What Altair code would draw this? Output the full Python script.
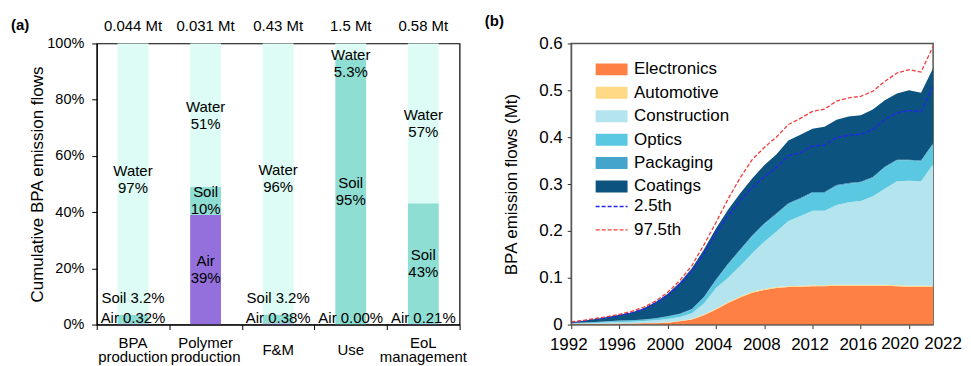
import altair as alt
import pandas as pd

FONT = "Liberation Sans"

# ---------------- Panel (a) data ----------------
stages = ["BPA\nproduction", "Polymer\nproduction", "F&M", "Use", "EoL\nmanagement"]
totals = ["0.044 Mt", "0.031 Mt", "0.43 Mt", "1.5 Mt", "0.58 Mt"]
air = [0.32, 39, 0.38, 0.00, 0.21]
soil = [3.2, 10, 3.2, 95, 43]
water = [97, 51, 96, 5.3, 57]
air_lbl = ["0.32%", "39%", "0.38%", "0.00%", "0.21%"]
soil_lbl = ["3.2%", "10%", "3.2%", "95%", "43%"]
water_lbl = ["97%", "51%", "96%", "5.3%", "57%"]
media = ["Air", "Soil", "Water"]
media_colors = ["#9370db", "#8fded3", "#dcfcf5"]

# ---------------- Panel (b) data ----------------
years = list(range(1992, 2023))
electronics = [0.001, 0.001, 0.001, 0.0015, 0.002, 0.002, 0.003, 0.003, 0.004, 0.007,
               0.011, 0.020, 0.032, 0.046, 0.058, 0.068, 0.074, 0.078, 0.080, 0.081,
               0.082, 0.082, 0.083, 0.083, 0.083, 0.083, 0.083, 0.082, 0.081, 0.081, 0.081]
automotive = [0.0005] * 8 + [0.001] * 3 + [0.002] * 20
construction = [0.001, 0.0015, 0.002, 0.0025, 0.003, 0.0035, 0.004, 0.0055, 0.007, 0.008,
                0.012, 0.023, 0.044, 0.052, 0.065, 0.082, 0.101, 0.118, 0.139, 0.149,
                0.159, 0.159, 0.170, 0.176, 0.179, 0.189, 0.205, 0.222, 0.224, 0.223, 0.259]
optics = [0.0005, 0.001, 0.0015, 0.002, 0.0025, 0.003, 0.003, 0.004, 0.005, 0.006,
          0.008, 0.013, 0.016, 0.028, 0.033, 0.036, 0.037, 0.037, 0.036, 0.036,
          0.038, 0.038, 0.041, 0.039, 0.039, 0.039, 0.045, 0.044, 0.043, 0.042, 0.043]
packaging = [0.0005] * 8 + [0.001] * 4 + [0.002] * 19
coatings = [0.0015, 0.0035, 0.0065, 0.009, 0.0125, 0.0165, 0.024, 0.0345, 0.048, 0.067,
            0.087, 0.101, 0.109, 0.115, 0.120, 0.122, 0.124, 0.126, 0.134, 0.135,
            0.135, 0.139, 0.139, 0.142, 0.142, 0.144, 0.142, 0.141, 0.148, 0.145, 0.160]
p025 = [0.005, 0.008, 0.012, 0.015, 0.020, 0.025, 0.033, 0.046, 0.063, 0.086,
        0.114, 0.152, 0.195, 0.232, 0.265, 0.293, 0.315, 0.335, 0.360, 0.367,
        0.381, 0.383, 0.399, 0.404, 0.406, 0.416, 0.438, 0.452, 0.457, 0.454, 0.509]
p975 = [0.006, 0.009, 0.013, 0.017, 0.022, 0.028, 0.037, 0.050, 0.069, 0.094,
        0.126, 0.170, 0.218, 0.268, 0.313, 0.352, 0.378, 0.400, 0.427, 0.440,
        0.455, 0.460, 0.477, 0.484, 0.487, 0.498, 0.519, 0.537, 0.544, 0.539, 0.594]
sectors = ["Electronics", "Automotive", "Construction", "Optics", "Packaging", "Coatings"]
sector_colors = ["#ff8045", "#ffd985", "#b4e4ee", "#5ac8e0", "#44a4cc", "#0c5380"]
bounds = ["2.5th", "97.5th"]
bound_colors = ["#2424f0", "#f43c3c"]
year_labels = [1992, 1996, 2000, 2004, 2008, 2012, 2016]
year_2020 = [2020]
year_2022 = [2022]

# ---------------- build tables ----------------
bar_rows, lab_rows = [], []
for i, s in enumerate(stages):
    vals = [air[i], soil[i], water[i]]
    for k, m in enumerate(media):
        bar_rows.append({"stage": s, "medium": m, "value": vals[k], "k": k})
    tot = sum(vals)
    a1 = air[i] / tot
    s1 = a1 + soil[i] / tot
    if air[i] < 5:
        lab_rows.append({"stage": s, "y": 0.025, "t": "Air " + air_lbl[i]})
    else:
        lab_rows.append({"stage": s, "y": a1 / 2, "t": "Air\n" + air_lbl[i]})
    if soil[i] < 5:
        lab_rows.append({"stage": s, "y": 0.095, "t": "Soil " + soil_lbl[i]})
    else:
        lab_rows.append({"stage": s, "y": (a1 + s1) / 2, "t": "Soil\n" + soil_lbl[i]})
    if water[i] < 10:
        lab_rows.append({"stage": s, "y": 1 - 0.072, "t": "Water\n" + water_lbl[i]})
    else:
        lab_rows.append({"stage": s, "y": (s1 + 1) / 2, "t": "Water\n" + water_lbl[i]})
df_bars = pd.DataFrame(bar_rows)
df_lab = pd.DataFrame(lab_rows)
df_lab1 = df_lab[~df_lab["t"].str.contains("\n")]
df_lab2 = df_lab[df_lab["t"].str.contains("\n")]
df_tot = pd.DataFrame({"stage": stages, "t": totals})
df_cat = pd.DataFrame({"stage": stages})
df_cat1 = df_cat[~df_cat["stage"].str.contains("\n")]
df_cat2 = df_cat[df_cat["stage"].str.contains("\n")]

series = [electronics, automotive, construction, optics, packaging, coatings]
area_rows = []
for k, (name, vals) in enumerate(zip(sectors, series)):
    for y, v in zip(years, vals):
        area_rows.append({"year": y, "sector": name, "value": v, "k": k})
df_area = pd.DataFrame(area_rows)
line_rows = []
for name, vals in zip(bounds, [p025, p975]):
    for y, v in zip(years, vals):
        line_rows.append({"year": y, "bound": name, "value": v})
df_lines = pd.DataFrame(line_rows)
df_y2020 = pd.DataFrame({"year": year_2020, "t": [str(v) for v in year_2020]})
df_y2022 = pd.DataFrame({"year": year_2022, "t": [str(v) for v in year_2022]})

# ---------------- Panel (a) ----------------
xa = alt.X("stage:N", sort=stages, scale=alt.Scale(paddingInner=0, paddingOuter=0),
           axis=alt.Axis(title=None, labels=False, tickBand="extent",
                         tickSize=5, tickColor="black", domainColor="black",
                         grid=False, zindex=1))
ya = alt.Y("value:Q", stack="normalize", scale=alt.Scale(domain=[0, 1], nice=False),
           axis=alt.Axis(title="Cumulative BPA emission flows", values=[i / 10 for i in range(11)],
                         labelExpr="(round(datum.value*10) % 2 == 0) ? format(datum.value, '.0%') : ''",
                         labelFontSize=14.5, titleFontSize=17, titleFontWeight="normal",
                         tickSize=5, labelPadding=8, titlePadding=0, grid=False,
                         tickColor="black", domainColor="black", labelColor="black",
                         titleColor="black", zindex=1))
bars = alt.Chart(df_bars).mark_bar(width=alt.RelativeBandSize(0.425)).encode(
    x=xa, y=ya,
    color=alt.Color("medium:N", scale=alt.Scale(domain=media, range=media_colors), legend=None),
    order=alt.Order("k:Q"),
)
labels1 = alt.Chart(df_lab1).mark_text(fontSize=15, baseline="middle", color="black").encode(
    x=alt.X("stage:N", sort=stages), y=alt.Y("y:Q"), text="t:N")
labels2 = alt.Chart(df_lab2).mark_text(fontSize=15, lineBreak="\n", lineHeight=17, dy=-8.5,
                                       baseline="middle", color="black").encode(
    x=alt.X("stage:N", sort=stages), y=alt.Y("y:Q"), text="t:N")
tops = alt.Chart(df_tot).mark_text(fontSize=15, baseline="bottom", dy=-10, color="black").encode(
    x=alt.X("stage:N", sort=stages), y=alt.datum(1), text="t:N")
cats1 = alt.Chart(df_cat1).mark_text(fontSize=15, baseline="middle", dy=25.5, color="black").encode(
    x=alt.X("stage:N", sort=stages), y=alt.datum(0), text="stage:N")
cats2 = alt.Chart(df_cat2).mark_text(fontSize=15, baseline="middle", lineBreak="\n", lineHeight=15,
                                     dy=18, color="black").encode(
    x=alt.X("stage:N", sort=stages), y=alt.datum(0), text="stage:N")
panel_a = alt.layer(bars, labels1, labels2, tops, cats1, cats2).properties(
    width=364, height=282,
    title=alt.TitleParams("(a)", anchor="start", frame="bounds", fontSize=15, fontWeight="bold",
                          dx=-18, offset=-14, color="black"),
    view=alt.ViewBackground(stroke="black", strokeWidth=1.2),
)

# ---------------- Panel (b) ----------------
label_test = " || ".join("datum.value == %d" % y for y in year_labels)
xb = alt.X("year:Q", scale=alt.Scale(domain=[1992, 2022], nice=False),
           axis=alt.Axis(title=None, values=list(range(1992, 2023, 2)),
                         labelExpr="(" + label_test + ") ? datum.value : ''",
                         labelFontSize=17, tickSize=4, labelPadding=8, labelOffset=-3, grid=False,
                         labelFlush=False, labelBound=False,
                         tickColor="#333", domainColor="#555", labelColor="black",
                         labelOverlap=False, zindex=1))
yb = alt.Y("value:Q", stack="zero", scale=alt.Scale(domain=[0, 0.6], nice=False),
           axis=alt.Axis(title="BPA emission flows (Mt)", values=[i / 20 for i in range(13)],
                         labelExpr="(round(datum.value*100) % 10 == 0) ? format(datum.value, '~g') : ''",
                         labelFontSize=17, titleFontSize=17, titleFontWeight="normal",
                         tickSize=4, labelPadding=5, titlePadding=18, grid=False,
                         labelFlush=False, labelBound=False,
                         tickColor="#333", domainColor="#555", labelColor="black",
                         titleColor="black", labelOverlap=False, zindex=1))
areas = alt.Chart(df_area).mark_area(interpolate="linear").encode(
    x=xb, y=yb,
    color=alt.Color("sector:N", scale=alt.Scale(domain=sectors, range=sector_colors),
                    legend=alt.Legend(title=None, orient="none", legendX=32, legendY=17.5,
                                      symbolType="M-2.667,-1H2.667V1H-2.667Z", symbolSize=144,
                                      symbolStrokeWidth=0, symbolOpacity=1,
                                      labelFontSize=17, labelOffset=14, rowPadding=5.5,
                                      padding=0, labelColor="black")),
    order=alt.Order("k:Q"),
)
lines = alt.Chart(df_lines).mark_line(strokeDash=[4, 2], strokeWidth=1.3).encode(
    x=alt.X("year:Q"), y=alt.Y("value:Q"),
    stroke=alt.Stroke("bound:N", scale=alt.Scale(domain=bounds, range=bound_colors),
                      legend=alt.Legend(title=None, orient="none", legendX=32, legendY=155,
                                        symbolType="M-2.667,0H2.667", symbolSize=144,
                                        symbolStrokeWidth=1.4, symbolDash=[4, 2],
                                        labelFontSize=17, labelOffset=14, rowPadding=5.5,
                                        padding=0, labelColor="black")),
)
lab2020 = alt.Chart(df_y2020).mark_text(fontSize=17, baseline="top", dy=12, dx=-9,
                                        color="black").encode(
    x=alt.X("year:Q"), y=alt.datum(0), text="t:N")
lab2022 = alt.Chart(df_y2022).mark_text(fontSize=17, baseline="top", dy=12, dx=10,
                                        color="black").encode(
    x=alt.X("year:Q"), y=alt.datum(0), text="t:N")
panel_b = alt.layer(areas, lines, lab2020, lab2022).properties(
    width=363, height=282,
    title=alt.TitleParams("(b)", anchor="start", frame="bounds", fontSize=15, fontWeight="bold",
                          dx=-18, offset=6, color="black"),
    view=alt.ViewBackground(stroke="#555", strokeWidth=1.5),
)

chart = alt.hconcat(panel_a, panel_b, spacing=16).resolve_scale(
    color="independent", stroke="independent").configure(
    font=FONT, padding={"left": 2, "top": 4, "right": 0, "bottom": 5},
)
chart.save("out.html", embed_options={"renderer": "svg", "actions": False})
